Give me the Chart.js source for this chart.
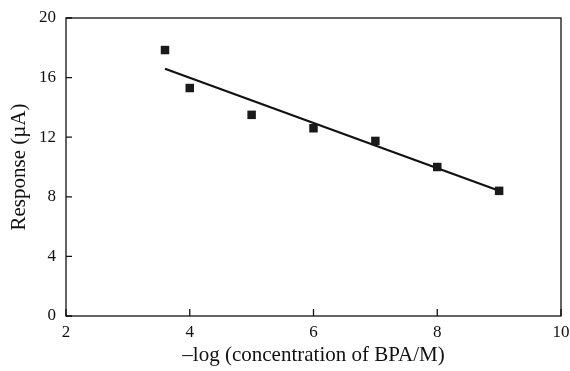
<!DOCTYPE html>
<html>
<head>
<meta charset="utf-8">
<style>
  html, body { margin: 0; padding: 0; background: #fff; }
  #c { display: block; }
</style>
<script src="https://cdn.jsdelivr.net/npm/chart.js@4/dist/chart.umd.min.js"></script>
</head>
<body>
<canvas id="c" width="570" height="371"></canvas>
<script>
// 測定点 (-log C, 応答 µA)
var logConc = [3.6, 4, 5, 6, 7, 8, 9];
var response = [17.85, 15.3, 13.5, 12.6, 11.75, 10.0, 8.4];
// 直線の両端
var fitX = [3.6, 9];
var fitY = [16.6, 8.4];
// 目盛り
var xTicks = [2, 4, 6, 8, 10];
var yTicks = [0, 4, 8, 12, 16, 20];

var serif = 'Liberation Serif, Times New Roman, serif';

// 枠と内向きの目盛りを描く
var frame = {
  id: 'frame',
  afterDraw: function(chart) {
    var a = chart.chartArea, ctx = chart.ctx;
    var xs = chart.scales.x, ys = chart.scales.y;
    ctx.save();
    ctx.strokeStyle = '#111';
    ctx.lineWidth = 1.3;
    ctx.strokeRect(a.left, a.top, a.right - a.left, a.bottom - a.top);
    ctx.beginPath();
    xTicks.forEach(function(v) {
      var px = xs.getPixelForValue(v);
      ctx.moveTo(px, a.bottom);
      ctx.lineTo(px, a.bottom - 7);
    });
    yTicks.forEach(function(v) {
      var py = ys.getPixelForValue(v);
      ctx.moveTo(a.left, py);
      ctx.lineTo(a.left + 6, py);
    });
    ctx.stroke();
    ctx.restore();
  }
};

new Chart(document.getElementById('c'), {
  type: 'scatter',
  data: {
    datasets: [{
      data: logConc.map(function(x, i) { return {x: x, y: response[i]}; }),
      pointStyle: 'rect',
      pointRadius: 6,
      backgroundColor: '#1a1a1a',
      borderColor: '#1a1a1a',
      borderWidth: 0,
      order: 1
    }, {
      type: 'line',
      data: fitX.map(function(x, i) { return {x: x, y: fitY[i]}; }),
      borderColor: '#111',
      borderWidth: 2.2,
      pointRadius: 0,
      fill: false,
      order: 2
    }]
  },
  options: {
    responsive: false,
    animation: false,
    layout: { padding: { top: 18, right: 9, left: 0, bottom: 0 } },
    plugins: { legend: { display: false }, tooltip: { enabled: false } },
    scales: {
      x: {
        type: 'linear',
        min: 2, max: 10,
        afterFit: function(s) { s.height = 55; s.paddingLeft = 0; s.paddingRight = 0; },
        afterBuildTicks: function(s) { s.ticks = xTicks.map(function(v) { return {value: v}; }); },
        grid: { display: false, drawTicks: false },
        border: { display: false },
        ticks: { color: '#111', padding: 6, font: { family: serif, size: 17 } },
        title: {
          display: true,
          text: '\u2013log (concentration of BPA/M)',
          color: '#111',
          padding: { top: 0, bottom: 3 },
          font: { family: serif, size: 21 }
        }
      },
      y: {
        min: 0, max: 20,
        afterFit: function(s) { s.width = 66; s.paddingTop = 0; s.paddingBottom = 0; },
        afterBuildTicks: function(s) { s.ticks = yTicks.map(function(v) { return {value: v}; }); },
        grid: { display: false, drawTicks: false },
        border: { display: false },
        ticks: { color: '#111', padding: 10, font: { family: serif, size: 17 } },
        title: {
          display: true,
          text: 'Response (\u00b5A)',
          color: '#111',
          padding: { top: 7, bottom: 0 },
          font: { family: serif, size: 21 }
        }
      }
    }
  },
  plugins: [frame]
});
</script>
</body>
</html>
